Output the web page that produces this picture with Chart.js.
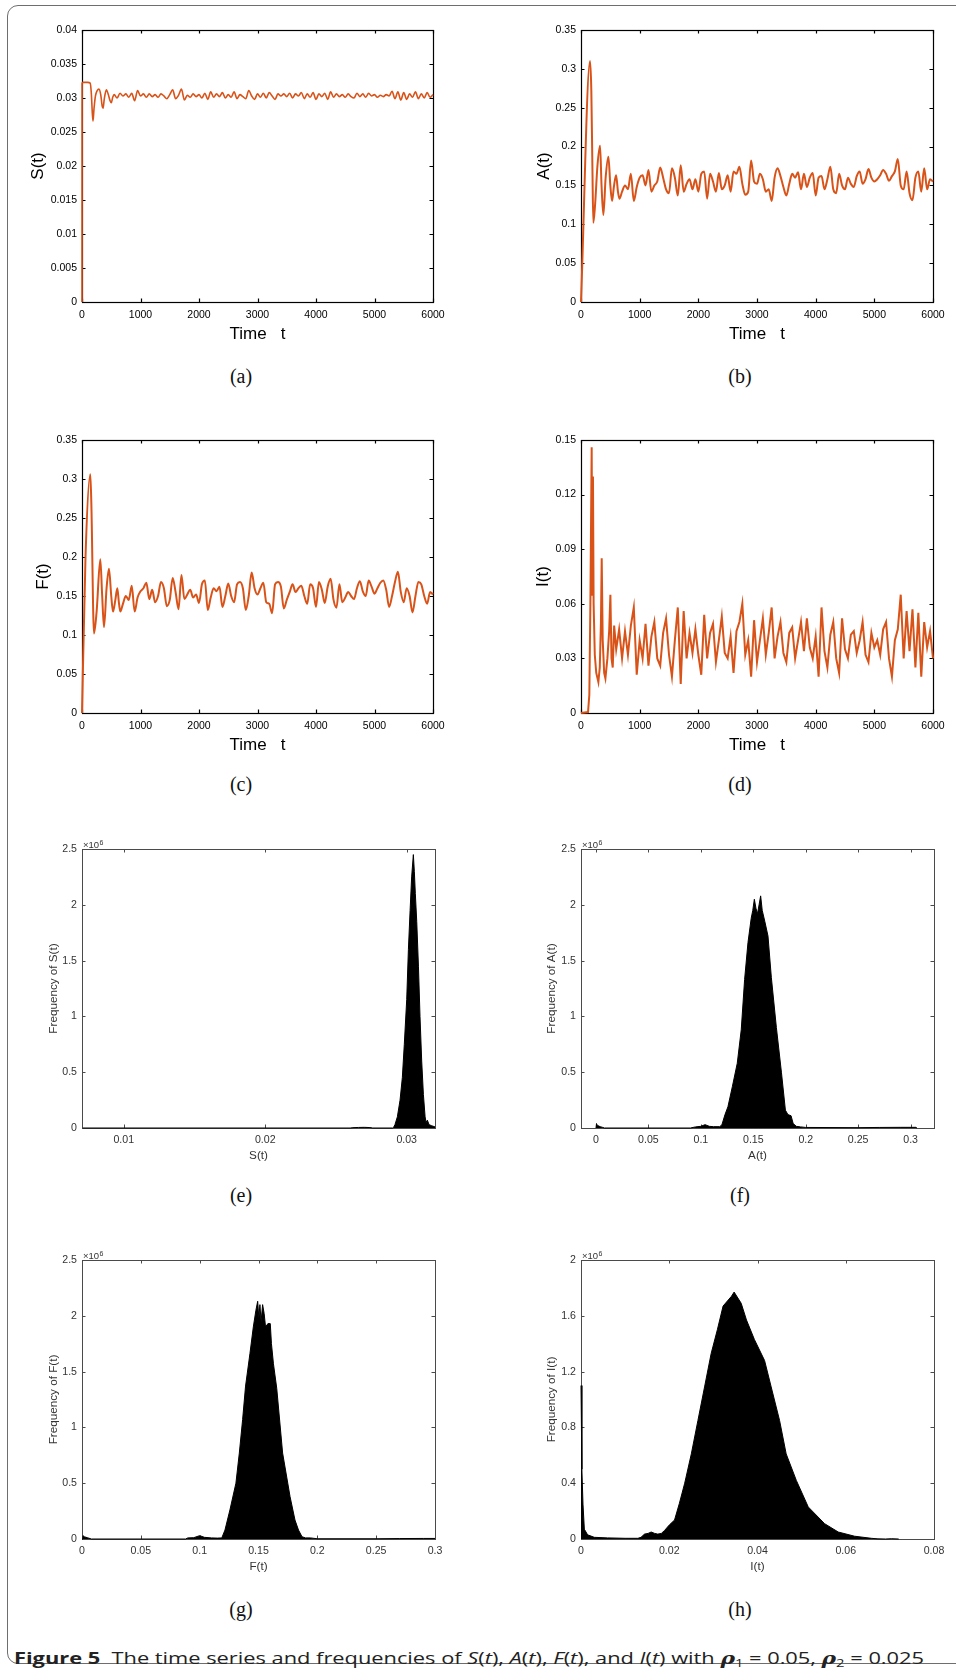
<!DOCTYPE html>
<html><head><meta charset="utf-8">
<script src="https://cdn.jsdelivr.net/npm/chart.js@4.4.1/dist/chart.umd.min.js"></script>
<style>
html,body{margin:0;padding:0;background:#fff;}
body{width:956px;height:1680px;overflow:hidden;position:relative;}
.frame{position:absolute;left:7px;top:5px;width:1200px;height:1657px;border:1.5px solid #6e6e6e;border-radius:11px;}
canvas{position:absolute;}
.plab{position:absolute;width:80px;text-align:center;font-family:"Liberation Serif","DejaVu Serif",serif;font-size:20px;line-height:24px;color:#111;}
.caption{position:absolute;left:14px;top:1646px;font-family:"Open Sans","Noto Sans",sans-serif;font-size:16px;line-height:24px;white-space:nowrap;color:#222;transform-origin:left center;display:inline-block;}
.caption sub{font-size:0.68em;vertical-align:-0.3em;line-height:0;}
.caption .rho{font-family:"DejaVu Serif",serif;font-style:italic;font-weight:bold;}
</style></head><body>
<div class="frame"></div>
<canvas id="ca"></canvas><canvas id="cb"></canvas><canvas id="cc"></canvas><canvas id="cd"></canvas>
<canvas id="ce"></canvas><canvas id="cf"></canvas><canvas id="cg"></canvas><canvas id="ch"></canvas>
<div class="plab" style="left:201px;top:364px">(a)</div>
<div class="plab" style="left:700px;top:364px">(b)</div>
<div class="plab" style="left:201px;top:772px">(c)</div>
<div class="plab" style="left:700px;top:772px">(d)</div>
<div class="plab" style="left:201px;top:1183px">(e)</div>
<div class="plab" style="left:700px;top:1183px">(f)</div>
<div class="plab" style="left:201px;top:1597px">(g)</div>
<div class="plab" style="left:700px;top:1597px">(h)</div>
<div class="caption" id="cap"><b>Figure 5</b>&nbsp; The time series and frequencies of <i>S</i>(<i>t</i>), <i>A</i>(<i>t</i>), <i>F</i>(<i>t</i>), and <i>I</i>(<i>t</i>) with <span class="rho">ρ</span><sub>1</sub> = 0.05, <span class="rho">ρ</span><sub>2</sub> = 0.025</div>
<script>
// ---------------- DATA ----------------
const timeTicks = [0, 1000, 2000, 3000, 4000, 5000, 6000];
const timeTickLabels = ['0', '1000', '2000', '3000', '4000', '5000', '6000'];

const yTicksS = [0, 0.005, 0.01, 0.015, 0.02, 0.025, 0.03, 0.035, 0.04];
const yLabelsS = ['0', '0.005', '0.01', '0.015', '0.02', '0.025', '0.03', '0.035', '0.04'];
const yTicksAF = [0, 0.05, 0.1, 0.15, 0.2, 0.25, 0.3, 0.35];
const yLabelsAF = ['0', '0.05', '0.1', '0.15', '0.2', '0.25', '0.3', '0.35'];
const yTicksI = [0, 0.03, 0.06, 0.09, 0.12, 0.15];
const yLabelsI = ['0', '0.03', '0.06', '0.09', '0.12', '0.15'];

// S(t)
const sTransT = [0, 1, 20, 60, 100, 140, 160, 175, 188, 205, 230, 260, 290, 320, 345, 360, 380, 416, 450, 480, 501, 525];
const sTransV = [0, 0.0322, 0.0323, 0.0323, 0.0323, 0.0322, 0.0306, 0.0280, 0.0266, 0.0284, 0.0303, 0.0311, 0.0313, 0.0305, 0.0288, 0.0285, 0.0298, 0.0312, 0.0305, 0.0296, 0.0293, 0.0301];
const sSteadyStart = 550;
const sSteadyV = [
0.0305, 0.0300, 0.0307, 0.0303, 0.0306, 0.0301, 0.0307, 0.0296, 0.0311, 0.0303,
0.0306, 0.0301, 0.0306, 0.0302, 0.0305, 0.0301, 0.0306, 0.0303, 0.0299, 0.0305,
0.0312, 0.0299, 0.0304, 0.0313, 0.0297, 0.0304, 0.0301, 0.0306, 0.0302, 0.0305,
0.0300, 0.0307, 0.0298, 0.0309, 0.0301, 0.0306, 0.0302, 0.0308, 0.0300, 0.0305,
0.0301, 0.0309, 0.0299, 0.0305, 0.0302, 0.0299, 0.0311, 0.0303, 0.0298, 0.0306,
0.0301, 0.0307, 0.0300, 0.0308, 0.0303, 0.0298, 0.0306, 0.0303, 0.0306, 0.0302,
0.0307, 0.0300, 0.0306, 0.0303, 0.0308, 0.0299, 0.0306, 0.0301, 0.0308, 0.0298,
0.0306, 0.0302, 0.0307, 0.0298, 0.0309, 0.0301, 0.0306, 0.0302, 0.0305, 0.0301,
0.0306, 0.0302, 0.0300, 0.0307, 0.0302, 0.0306, 0.0301, 0.0307, 0.0303, 0.0305,
0.0301, 0.0304, 0.0302, 0.0305, 0.0303, 0.0310, 0.0299, 0.0309, 0.0297, 0.0308,
0.0298, 0.0306, 0.0301, 0.0309, 0.0299, 0.0306, 0.0300, 0.0308, 0.0301, 0.0305];

// A(t)
const aTransT = [0, 154, 176, 195, 210, 240, 280, 325, 350, 381, 420, 467, 500, 530, 560, 598, 630, 655];
const aTransV = [0, 0.310, 0.272, 0.170, 0.102, 0.125, 0.175, 0.201, 0.150, 0.112, 0.160, 0.187, 0.150, 0.130, 0.148, 0.163, 0.142, 0.133];
const aSteadyStart = 700;
const aSteadyV = [
0.142, 0.150, 0.145, 0.165, 0.130, 0.148, 0.160, 0.163, 0.150, 0.170,
0.142, 0.150, 0.155, 0.173, 0.160, 0.145, 0.140, 0.172, 0.160, 0.137,
0.176, 0.142, 0.152, 0.158, 0.145, 0.158, 0.142, 0.165, 0.168, 0.133,
0.165, 0.155, 0.142, 0.166, 0.145, 0.150, 0.163, 0.142, 0.168, 0.165,
0.174, 0.152, 0.138, 0.142, 0.182, 0.155, 0.152, 0.165, 0.158, 0.142,
0.145, 0.130, 0.160, 0.172, 0.162, 0.148, 0.137, 0.152, 0.165, 0.160,
0.167, 0.145, 0.165, 0.148, 0.160, 0.166, 0.137, 0.160, 0.162, 0.145,
0.158, 0.174, 0.145, 0.140, 0.165, 0.150, 0.145, 0.160, 0.152, 0.148,
0.162, 0.168, 0.152, 0.158, 0.171, 0.160, 0.155, 0.158, 0.163, 0.170,
0.165, 0.156, 0.162, 0.168, 0.184, 0.150, 0.145, 0.168, 0.140, 0.131,
0.160, 0.168, 0.142, 0.172, 0.145, 0.158, 0.155];

// F(t)
const fTransT = [0, 60, 142, 160, 205, 250, 313, 345, 376, 420, 461, 500, 530, 570, 604, 630, 655];
const fTransV = [0, 0.200, 0.306, 0.268, 0.102, 0.130, 0.197, 0.150, 0.110, 0.160, 0.185, 0.150, 0.130, 0.145, 0.160, 0.142, 0.130];
const fSteadyStart = 700;
const fSteadyV = [
0.140, 0.150, 0.145, 0.163, 0.130, 0.148, 0.156, 0.160, 0.167, 0.146,
0.158, 0.142, 0.150, 0.168, 0.160, 0.137, 0.145, 0.173, 0.155, 0.133,
0.177, 0.146, 0.152, 0.158, 0.148, 0.152, 0.141, 0.165, 0.170, 0.132,
0.148, 0.160, 0.156, 0.162, 0.136, 0.150, 0.166, 0.150, 0.142, 0.165,
0.168, 0.160, 0.132, 0.150, 0.180, 0.160, 0.152, 0.160, 0.167, 0.142,
0.140, 0.128, 0.165, 0.168, 0.162, 0.134, 0.145, 0.155, 0.165, 0.155,
0.160, 0.163, 0.150, 0.140, 0.165, 0.160, 0.136, 0.168, 0.158, 0.141,
0.162, 0.172, 0.145, 0.135, 0.165, 0.142, 0.148, 0.155, 0.150, 0.146,
0.160, 0.169, 0.156, 0.150, 0.170, 0.162, 0.153, 0.160, 0.167, 0.170,
0.158, 0.136, 0.150, 0.168, 0.181, 0.155, 0.142, 0.160, 0.150, 0.129,
0.150, 0.168, 0.165, 0.150, 0.140, 0.155, 0.152];

// I(t)
const iTransT = [0, 120, 142, 160, 182, 192, 204, 215, 235, 260, 296, 320, 340, 353, 370, 395, 416, 450, 480, 501, 520, 541, 565];
const iTransV = [0, 0.0005, 0.010, 0.060, 0.146, 0.065, 0.130, 0.060, 0.032, 0.022, 0.017, 0.025, 0.050, 0.085, 0.040, 0.022, 0.019, 0.030, 0.045, 0.065, 0.030, 0.025, 0.048];
const iSteadyStart = 600;
const iSteadyV = [
0.035, 0.046, 0.030, 0.045, 0.032, 0.048, 0.058, 0.021, 0.040, 0.030,
0.049, 0.026, 0.042, 0.050, 0.030, 0.026, 0.044, 0.052, 0.032, 0.020,
0.040, 0.058, 0.016, 0.056, 0.030, 0.044, 0.033, 0.046, 0.032, 0.021,
0.054, 0.030, 0.044, 0.049, 0.028, 0.040, 0.053, 0.033, 0.030, 0.042,
0.022, 0.045, 0.050, 0.060, 0.032, 0.040, 0.020, 0.051, 0.028, 0.040,
0.052, 0.032, 0.044, 0.058, 0.030, 0.042, 0.050, 0.033, 0.028, 0.044,
0.047, 0.030, 0.040, 0.050, 0.034, 0.052, 0.036, 0.030, 0.042, 0.020,
0.058, 0.034, 0.025, 0.043, 0.050, 0.030, 0.022, 0.052, 0.035, 0.030,
0.043, 0.045, 0.033, 0.040, 0.050, 0.032, 0.028, 0.044, 0.036, 0.040,
0.032, 0.046, 0.050, 0.030, 0.020, 0.040, 0.046, 0.065, 0.030, 0.056,
0.034, 0.057, 0.025, 0.055, 0.020, 0.050, 0.036, 0.045, 0.030];

// Histograms (frequency in units of 10^6)
const freqTicks25 = [0, 0.5, 1, 1.5, 2, 2.5];
const freqLabels25 = ['0', '0.5', '1', '1.5', '2', '2.5'];
const freqTicks2 = [0, 0.4, 0.8, 1.2, 1.6, 2];
const freqLabels2 = ['0', '0.4', '0.8', '1.2', '1.6', '2'];
const histSTicks = [0.01, 0.02, 0.03];
const histSLabels = ['0.01', '0.02', '0.03'];
const histAFTicks = [0, 0.05, 0.1, 0.15, 0.2, 0.25, 0.3];
const histAFLabels = ['0', '0.05', '0.1', '0.15', '0.2', '0.25', '0.3'];
const histITicks = [0, 0.02, 0.04, 0.06, 0.08];
const histILabels = ['0', '0.02', '0.04', '0.06', '0.08'];

const histSX = [0.0071, 0.0260, 0.0262, 0.0266, 0.0270, 0.0274, 0.0276, 0.0290, 0.02906, 0.02917, 0.02934, 0.02953, 0.02969, 0.02983, 0.0300, 0.03012, 0.03024, 0.03035, 0.03047, 0.03054, 0.03061, 0.03071, 0.03083, 0.03094, 0.03106, 0.03118, 0.0313, 0.03137, 0.03146, 0.03158, 0.03177, 0.0320];
const histSY = [0, 0, 0.003, 0.005, 0.006, 0.004, 0, 0, 0.003, 0.03, 0.10, 0.25, 0.45, 0.75, 1.15, 1.6, 1.95, 2.25, 2.45, 2.3, 2.1, 1.85, 1.45, 1.0, 0.6, 0.3, 0.1, 0.05, 0.07, 0.03, 0.02, 0.01];

const histAX = [0.0, 0.0005, 0.0010, 0.0020, 0.0040, 0.0065, 0.0080, 0.0900, 0.0950, 0.1000, 0.1040, 0.1080, 0.1120, 0.1180, 0.1201, 0.1230, 0.1258, 0.1300, 0.1347, 0.1385, 0.1417, 0.1449, 0.1480, 0.1495, 0.1510, 0.1525, 0.1540, 0.1555, 0.1570, 0.1585, 0.1610, 0.1640, 0.1672, 0.1720, 0.1768, 0.1806, 0.1830, 0.1860, 0.1880, 0.1910, 0.1950, 0.2000, 0.2500, 0.2700, 0.2900, 0.3050, 0.3060];
const histAY = [0, 0.04, 0.03, 0.02, 0.012, 0.005, 0, 0, 0.01, 0.015, 0.03, 0.015, 0.012, 0.012, 0.03, 0.12, 0.19, 0.37, 0.58, 0.88, 1.33, 1.66, 1.88, 1.95, 2.05, 1.97, 1.92, 2.0, 2.08, 1.95, 1.85, 1.72, 1.35, 0.9, 0.5, 0.16, 0.12, 0.11, 0.04, 0.015, 0.01, 0.005, 0.003, 0.005, 0.006, 0.006, 0];

const histFX = [0.0, 0.0008, 0.002, 0.005, 0.008, 0.088, 0.090, 0.095, 0.100, 0.104, 0.110, 0.115, 0.1188, 0.1215, 0.1257, 0.1308, 0.1337, 0.1365, 0.1390, 0.1427, 0.1456, 0.1478, 0.1493, 0.1503, 0.1512, 0.1522, 0.1535, 0.1548, 0.1560, 0.1580, 0.1600, 0.1610, 0.1627, 0.1655, 0.1705, 0.1768, 0.1810, 0.1840, 0.1870, 0.1900, 0.1940, 0.2000, 0.2500, 0.2700, 0.2900, 0.3000];
const histFY = [0, 0.03, 0.02, 0.01, 0, 0, 0.01, 0.012, 0.03, 0.015, 0.01, 0.008, 0.01, 0.08, 0.26, 0.50, 0.77, 1.07, 1.37, 1.66, 1.90, 2.05, 2.13, 1.98, 2.10, 1.95, 2.10, 2.02, 1.90, 1.93, 1.93, 1.75, 1.57, 1.35, 0.77, 0.38, 0.17, 0.08, 0.02, 0.01, 0.01, 0.002, 0.002, 0.004, 0.005, 0.005];

const histIX = [0, 0.0002, 0.00045, 0.00076, 0.0015, 0.003, 0.006, 0.010, 0.0129, 0.0136, 0.0144, 0.0152, 0.0159, 0.0167, 0.0174, 0.0182, 0.0189, 0.0200, 0.0212, 0.0223, 0.0235, 0.0250, 0.0265, 0.0280, 0.0295, 0.0309, 0.0322, 0.0341, 0.0347, 0.0363, 0.0375, 0.0393, 0.0416, 0.0431, 0.0450, 0.0465, 0.0488, 0.0515, 0.0552, 0.0583, 0.0620, 0.0658, 0.0673, 0.0690, 0.0704, 0.0720];
const histIY = [1.1, 0.5, 0.25, 0.07, 0.03, 0.012, 0.008, 0.005, 0.005, 0.012, 0.035, 0.04, 0.05, 0.04, 0.035, 0.04, 0.06, 0.10, 0.136, 0.256, 0.40, 0.61, 0.85, 1.09, 1.33, 1.50, 1.67, 1.74, 1.77, 1.69, 1.57, 1.43, 1.28, 1.09, 0.85, 0.61, 0.42, 0.23, 0.11, 0.05, 0.02, 0.005, 0.001, 0, 0.002, 0];

// ---------------- RENDER ----------------
const FONT = "'Liberation Sans', Arial, Helvetica, sans-serif";
const TS_COLOR = '#D95319';

function timeGrid(start, n) { // uniform sampling times ending at 6000
  return Array.from({length: n}, (_, i) => start + i * (6000 - start) / (n - 1));
}
function pts(xs, ys) { return xs.map((x, i) => ({x: x, y: ys[i]})); }

const mbox = {
  id: 'mbox',
  beforeDatasetsDraw(chart, args, o) {
    const {ctx, chartArea: a, scales: {x, y}} = chart;
    ctx.save();
    ctx.strokeStyle = o.color; ctx.lineWidth = o.width;
    const L = o.tickLen;
    ctx.beginPath();
    x.ticks.forEach(t => {
      const p = Math.round(x.getPixelForValue(t.value)) + 0.5;
      ctx.moveTo(p, a.bottom); ctx.lineTo(p, a.bottom - L);
      ctx.moveTo(p, a.top); ctx.lineTo(p, a.top + L);
    });
    y.ticks.forEach(t => {
      const p = Math.round(y.getPixelForValue(t.value)) + 0.5;
      ctx.moveTo(a.left, p); ctx.lineTo(a.left + L, p);
      ctx.moveTo(a.right, p); ctx.lineTo(a.right - L, p);
    });
    ctx.stroke();
    ctx.strokeRect(a.left + 0.5, a.top + 0.5, a.right - a.left, a.bottom - a.top);
    if (o.exponent) {
      ctx.fillStyle = '#333';
      ctx.textBaseline = 'alphabetic';
      ctx.textAlign = 'left';
      ctx.font = '9.5px ' + FONT;
      ctx.fillText('\u00d710', a.left + 1, a.top - 1);
      const w = ctx.measureText('\u00d710').width;
      ctx.font = '7px ' + FONT;
      ctx.fillText(o.exponent, a.left + 1.5 + w, a.top - 4.5);
    }
    ctx.restore();
  }
};

function placeCanvas(id, rect, YW, PT, PR, XH) {
  const cv = document.getElementById(id);
  const pw = rect[2] - rect[0], ph = rect[3] - rect[1];
  cv.width = YW + pw + PR; cv.height = PT + ph + XH;
  cv.style.left = (rect[0] - YW) + 'px'; cv.style.top = (rect[1] - PT) + 'px';
  cv.style.width = cv.width + 'px'; cv.style.height = cv.height + 'px';
  return cv;
}

const noGrid = {display: false, drawTicks: false, tickLength: 0};

function makeTS(id, rect, times, vals, yTicks, yLabels, yMax, yTitle, yTitlePad, lineW, smooth) {
  const YW = 60, PT = 15, PR = 20, XH = 45;
  const cv = placeCanvas(id, rect, YW, PT, PR, XH);
  new Chart(cv, {
    type: 'line',
    data: {datasets: [{data: pts(times, vals), borderColor: TS_COLOR, borderWidth: lineW, pointRadius: 0,
      tension: smooth ? 0.4 : 0, cubicInterpolationMode: smooth ? 'monotone' : 'default', fill: false, clip: 5}]},
    options: {
      responsive: false, animation: false, events: [],
      layout: {padding: {left: 0, top: PT, right: PR, bottom: 0}},
      plugins: {legend: {display: false}, tooltip: {enabled: false}, mbox: {color: '#000', width: 1.2, tickLen: 3.5}},
      scales: {
        x: {type: 'linear', min: 0, max: 6000,
          afterBuildTicks: s => { s.ticks = timeTicks.map(v => ({value: v})); },
          afterFit: s => { s.height = XH; },
          grid: noGrid, border: {display: false},
          ticks: {callback: (v, i) => timeTickLabels[i], font: {family: FONT, size: 10.5}, color: '#000', padding: 6.5, maxRotation: 0, minRotation: 0, autoSkip: false},
          title: {display: true, text: 'Time   t', font: {family: FONT, size: 17}, color: '#000', padding: {top: 0, bottom: 2.8}}},
        y: {type: 'linear', min: 0, max: yMax,
          afterBuildTicks: s => { s.ticks = yTicks.map(v => ({value: v})); },
          afterFit: s => { s.width = YW; },
          grid: noGrid, border: {display: false},
          ticks: {callback: (v, i) => yLabels[i], font: {family: FONT, size: 10.5}, color: '#000', padding: 5, autoSkip: false},
          title: {display: true, text: yTitle, font: {family: FONT, size: 17}, color: '#000', padding: {top: yTitlePad, bottom: 0}}}
      }
    },
    plugins: [mbox]
  });
}

function makeHist(id, rect, xs, ys, xMin, xMax, xTicks, xLabels, yTicks, yLabels, yMax, xTitle, yTitle, yTitlePad) {
  const YW = 60, PT = 15, PR = 20, XH = 40;
  const cv = placeCanvas(id, rect, YW, PT, PR, XH);
  new Chart(cv, {
    type: 'line',
    data: {datasets: [{data: pts(xs, ys), borderColor: '#000', backgroundColor: '#000', borderWidth: 1, pointRadius: 0, tension: 0, fill: 'origin', clip: 2}]},
    options: {
      responsive: false, animation: false, events: [],
      layout: {padding: {left: 0, top: PT, right: PR, bottom: 0}},
      plugins: {legend: {display: false}, tooltip: {enabled: false}, mbox: {color: '#4a4a4a', width: 1, tickLen: 3.5, exponent: '6'}},
      scales: {
        x: {type: 'linear', min: xMin, max: xMax,
          afterBuildTicks: s => { s.ticks = xTicks.map(v => ({value: v})); },
          afterFit: s => { s.height = XH; },
          grid: noGrid, border: {display: false},
          ticks: {callback: (v, i) => xLabels[i], font: {family: FONT, size: 10.6}, color: '#333', padding: 5.6, maxRotation: 0, minRotation: 0, autoSkip: false},
          title: {display: true, text: xTitle, font: {family: FONT, size: 11.7}, color: '#333', padding: {top: 0, bottom: 4.8}}},
        y: {type: 'linear', min: 0, max: yMax,
          afterBuildTicks: s => { s.ticks = yTicks.map(v => ({value: v})); },
          afterFit: s => { s.width = YW; },
          grid: noGrid, border: {display: false},
          ticks: {callback: (v, i) => yLabels[i], font: {family: FONT, size: 10.6}, color: '#333', padding: 5, autoSkip: false},
          title: {display: true, text: yTitle, font: {family: FONT, size: 11.7}, color: '#333', padding: {top: yTitlePad, bottom: 0}}}
      }
    },
    plugins: [mbox]
  });
}

const sT = sTransT.concat(timeGrid(sSteadyStart, sSteadyV.length)), sV = sTransV.concat(sSteadyV);
const aT = aTransT.concat(timeGrid(aSteadyStart, aSteadyV.length)), aV = aTransV.concat(aSteadyV);
const fT = fTransT.concat(timeGrid(fSteadyStart, fSteadyV.length)), fV = fTransV.concat(fSteadyV);
const iT = iTransT.concat(timeGrid(iSteadyStart, iSteadyV.length)), iV = iTransV.concat(iSteadyV);

makeTS('ca', [82, 30, 433, 302], sT, sV, yTicksS, yLabelsS, 0.04, 'S(t)', 5.8, 1.6, true);
makeTS('cb', [581, 30, 933, 302], aT, aV, yTicksAF, yLabelsAF, 0.35, 'A(t)', 13.5, 2, true);
makeTS('cc', [82, 440, 433, 713], fT, fV, yTicksAF, yLabelsAF, 0.35, 'F(t)', 11.1, 2, true);
makeTS('cd', [581, 440, 933, 713], iT, iV, yTicksI, yLabelsI, 0.15, 'I(t)', 11.8, 2, false);

makeHist('ce', [82, 849, 435, 1128], histSX, histSY, 0.00705, 0.032, histSTicks, histSLabels, freqTicks25, freqLabels25, 2.5, 'S(t)', 'Frequency of S(t)', 24.8);
makeHist('cf', [581, 849, 934, 1128], histAX, histAY, -0.0143, 0.3223, histAFTicks, histAFLabels, freqTicks25, freqLabels25, 2.5, 'A(t)', 'Frequency of A(t)', 24.2);
makeHist('cg', [82, 1260, 435, 1539], histFX, histFY, 0, 0.3, histAFTicks, histAFLabels, freqTicks25, freqLabels25, 2.5, 'F(t)', 'Frequency of F(t)', 24.8);
makeHist('ch', [581, 1260, 934, 1539], histIX, histIY, 0, 0.08, histITicks, histILabels, freqTicks2, freqLabels2, 2, 'I(t)', 'Frequency of I(t)', 24.2);

const cap = document.getElementById('cap');
const cw = cap.getBoundingClientRect().width;
cap.style.transform = 'scaleX(' + (910 / cw) + ')';
</script>
</body></html>
